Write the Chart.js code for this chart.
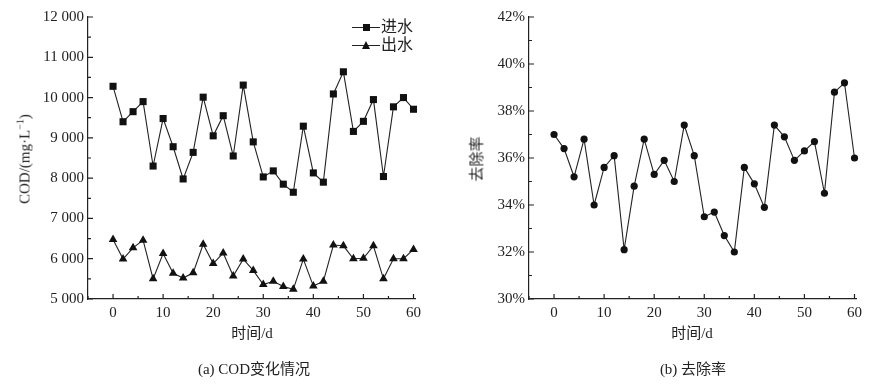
<!DOCTYPE html>
<html>
<head>
<meta charset="utf-8">
<script src="https://cdn.jsdelivr.net/npm/chart.js@4/dist/chart.umd.min.js"></script>
<style>
  body { margin: 0; background: #fff; }
  #wrap { position: relative; width: 882px; height: 384px; font-family: "Liberation Serif", "Noto Sans CJK SC", serif; color: #222; }
  canvas { position: absolute; top: 0; }
  .lbl { position: absolute; font-size: 15px; white-space: nowrap; line-height: 1; }
  .ytitle { position: absolute; font-size: 15px; white-space: nowrap; line-height: 1; transform: translate(-50%, -50%) rotate(-90deg); }
  .ctr { transform: translate(-50%, -50%); }
  .lg-line { position: absolute; height: 0; border-top: 1.2px solid #222; width: 28px; }
  .lg-sq { position: absolute; width: 7px; height: 7px; background: #111; }
  .lg-tri { position: absolute; width: 0; height: 0; border-left: 4.5px solid transparent; border-right: 4.5px solid transparent; border-bottom: 8px solid #111; }
</style>
</head>
<body>
<div id="wrap">
  <canvas id="codChart" width="441" height="384" style="left:0"></canvas>
  <canvas id="rateChart" width="441" height="384" style="left:441px"></canvas>

  <div class="ytitle" style="left:24px; top:159px;">COD/(mg·L<sup style="font-size:10px">−1</sup>)</div>
  <div class="ytitle" style="left:477px; top:159px;">去除率</div>

  <div class="lbl ctr" style="left:252px; top:333px;">时间/d</div>
  <div class="lbl ctr" style="left:692px; top:333px;">时间/d</div>
  <div class="lbl ctr" style="left:254px; top:369px;">(a) COD变化情况</div>
  <div class="lbl ctr" style="left:693px; top:369px;">(b) 去除率</div>

  <div class="lg-line" style="left:352px; top:27px;"></div>
  <div class="lg-sq" style="left:362.5px; top:24px;"></div>
  <div class="lbl" style="left:381px; top:19px; font-size:16px;">进水</div>
  <div class="lg-line" style="left:352px; top:45px;"></div>
  <div class="lg-tri" style="left:361.5px; top:41px;"></div>
  <div class="lbl" style="left:381px; top:37px; font-size:16px;">出水</div>
</div>

<script>
const days = [0, 2, 4, 6, 8, 10, 12, 14, 16, 18, 20, 22, 24, 26, 28, 30,
              32, 34, 36, 38, 40, 42, 44, 46, 48, 50, 52, 54, 56, 58, 60];
const influent = [10280, 9400, 9650, 9900, 8300, 9480, 8780, 7980, 8640, 10010, 9050,
                  9550, 8550, 10310, 8900, 8030, 8180, 7850, 7650, 9290, 8130, 7900,
                  10090, 10640, 9160, 9410, 9950, 8040, 9770, 10000, 9710];
const effluent = [6480, 5990, 6270, 6460, 5500, 6130, 5640, 5520, 5650, 6360, 5880,
                  6140, 5570, 5990, 5710, 5360, 5440, 5310, 5240, 5990, 5320, 5440,
                  6340, 6320, 6000, 6010, 6320, 5500, 6000, 6000, 6230];
const removal = [37.0, 36.4, 35.2, 36.8, 34.0, 35.6, 36.1, 32.1, 34.8, 36.8, 35.3,
                 35.9, 35.0, 37.4, 36.1, 33.5, 33.7, 32.7, 32.0, 35.6, 34.9, 33.9,
                 37.4, 36.9, 35.9, 36.3, 36.7, 34.5, 38.8, 39.2, 36.0];

const xTicks = [0, 10, 20, 30, 40, 50, 60];
const xMinor = [-5, 5, 15, 25, 35, 45, 55];
const codTicks = [5000, 6000, 7000, 8000, 9000, 10000, 11000, 12000];
const codMinor = [5500, 6500, 7500, 8500, 9500, 10500, 11500];
const rateTicks = [30, 32, 34, 36, 38, 40, 42];
const rateMinor = [31, 33, 35, 37, 39, 41];

const FONT = { family: '"Liberation Serif", "Noto Sans CJK SC", serif', size: 15 };
const INK = '#222';

// inward tick marks, major and minor
const tickMarks = {
    id: 'tickMarks',
    afterDraw(chart, args, o) {
        const ctx = chart.ctx, a = chart.chartArea;
        const sx = chart.scales.x, sy = chart.scales.y;
        ctx.save();
        ctx.strokeStyle = INK;
        ctx.lineWidth = 1.2;
        ctx.beginPath();
        o.xMajor.forEach(v => { const p = sx.getPixelForValue(v); ctx.moveTo(p, a.bottom); ctx.lineTo(p, a.bottom - 5); });
        o.xMinor.forEach(v => { const p = sx.getPixelForValue(v); ctx.moveTo(p, a.bottom); ctx.lineTo(p, a.bottom - 3); });
        o.yMajor.forEach(v => { const p = sy.getPixelForValue(v); ctx.moveTo(a.left, p); ctx.lineTo(a.left + 5, p); });
        o.yMinor.forEach(v => { const p = sy.getPixelForValue(v); ctx.moveTo(a.left, p); ctx.lineTo(a.left + 3, p); });
        ctx.stroke();
        ctx.restore();
    }
};

function pts(ys) {
    return days.map((d, i) => ({ x: d, y: ys[i] }));
}

function lineSet(ys, style, r) {
    return {
        data: pts(ys),
        borderColor: INK,
        borderWidth: 1.1,
        pointStyle: style,
        pointRadius: r,
        pointBackgroundColor: '#111',
        pointBorderColor: '#111',
        pointBorderWidth: 0,
        tension: 0
    };
}

function makeOptions(yMin, yMax, yTicks, yMinorTicks, fmt) {
    return {
        responsive: false,
        animation: false,
        devicePixelRatio: 1,
        clip: false,
        layout: { padding: { top: 17, right: 26, left: 0, bottom: 0 } },
        plugins: {
            legend: { display: false },
            tooltip: { enabled: false },
            tickMarks: { xMajor: xTicks, xMinor: xMinor, yMajor: yTicks, yMinor: yMinorTicks }
        },
        scales: {
            x: {
                type: 'linear',
                min: -5,
                max: 60.3,
                afterBuildTicks: s => { s.ticks = xTicks.map(v => ({ value: v })); },
                afterFit: s => { s.height = 85; },
                grid: { display: false, drawTicks: false },
                border: { display: true, color: INK, width: 1.2 },
                ticks: { color: INK, font: FONT, padding: 5, maxRotation: 0 }
            },
            y: {
                min: yMin,
                max: yMax,
                afterBuildTicks: s => { s.ticks = yTicks.map(v => ({ value: v })); },
                afterFit: s => { s.width = 88; },
                grid: { display: false, drawTicks: false },
                border: { display: true, color: INK, width: 1.2 },
                ticks: { color: INK, font: FONT, padding: 4, callback: fmt }
            }
        }
    };
}

new Chart(document.getElementById('codChart'), {
    type: 'line',
    data: {
        datasets: [
            lineSet(influent, 'rect', 5),
            lineSet(effluent, 'triangle', 5)
        ]
    },
    options: makeOptions(5000, 12000, codTicks, codMinor,
        v => String(v).replace(/\B(?=(\d{3})+$)/g, ' ')),
    plugins: [tickMarks]
});

new Chart(document.getElementById('rateChart'), {
    type: 'line',
    data: {
        datasets: [lineSet(removal, 'circle', 3.6)]
    },
    options: makeOptions(30, 42, rateTicks, rateMinor, v => v + '%'),
    plugins: [tickMarks]
});
</script>
</body>
</html>
